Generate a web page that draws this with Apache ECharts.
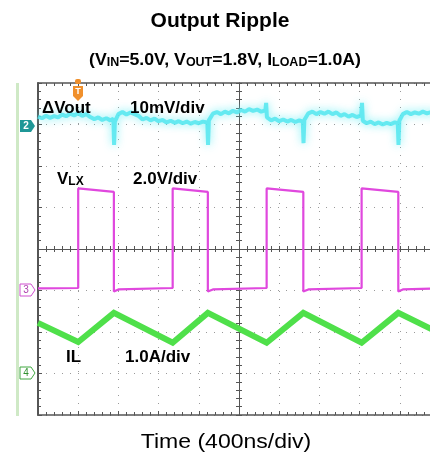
<!DOCTYPE html>
<html>
<head>
<meta charset="utf-8">
<script src="https://cdn.jsdelivr.net/npm/echarts@6/dist/echarts.min.js"></script>
<style>
html,body{margin:0;padding:0;background:#fff;overflow:hidden;width:430px;height:460px;}
#c{width:440px;height:460px;}
</style>
</head>
<body>
<div id="c"></div>
<script>
// ---- data (time in ns, 400 ns/div) ----
const timeMin = 0, timeMax = 4000, timeDiv = 400;

// Channel 2: ΔVout (mV), 10 mV/div
const dvTime = [0,40,80,120,160,200,240,280,320,360,400,440,480,520,560,600,640,680,720,750,757,765,
  800,840,880,920,960,1000,1040,1080,1120,1160,1200,1240,1280,1320,1360,1400,1440,1480,1520,1560,1600,1640,1685,1692,1700,
  1740,1780,1820,1860,1900,1940,1980,2020,2060,2100,2140,2180,2220,2262,2270,2278,
  2320,2360,2400,2440,2480,2520,2560,2600,2635,2642,2650,
  2690,2730,2770,2810,2850,2890,2930,2970,3010,3050,3090,3130,3170,3215,3224,3232,
  3270,3310,3350,3390,3430,3470,3510,3550,3580,3587,3595,
  3630,3670,3710,3750,3790,3830,3870,3910,3950,4000];
const dvMv = [2.4,2.0,2.6,2.1,2.5,2.2,2.9,2.5,3.1,2.7,3.2,2.6,3.0,2.3,1.8,2.2,1.6,2.0,1.5,1.9,-4.4,1.2,
  3.0,3.5,2.9,3.4,3.0,2.6,1.7,2.1,1.5,1.9,1.3,1.6,1.0,1.4,0.9,1.3,0.8,1.2,0.7,1.1,0.8,1.2,1.0,-4.4,1.5,
  3.1,3.5,3.0,3.6,3.2,3.8,3.4,4.0,3.6,4.2,3.8,4.1,3.6,3.9,5.7,2.2,
  1.5,1.9,1.3,1.7,1.2,1.6,1.1,1.5,1.2,-4.0,1.6,
  3.2,3.6,3.0,3.5,3.1,3.6,3.0,3.4,2.6,3.0,2.4,2.8,2.3,2.7,5.7,1.4,
  0.8,1.2,0.6,1.0,0.5,0.9,0.6,1.0,0.8,-4.4,1.4,
  3.0,3.5,3.0,3.4,3.1,3.6,3.2,3.5,3.0,3.3];

// Channel 3: VLX (V), 2.0 V/div
const vlxTime = [0,400,400,755,755,800,1340,1340,1690,1690,1740,2275,2275,2640,2640,2690,3220,3220,3585,3585,3630,4000];
const vlxVolt = [0.1,0.12,4.92,4.75,-0.05,0.05,0.12,4.92,4.75,-0.05,0.05,0.12,4.92,4.75,-0.05,0.05,0.12,4.92,4.75,-0.05,0.05,0.1];

// Channel 4: IL (A), 1.0 A/div
const ilTime = [0,400,755,1340,1690,2275,2640,3220,3585,4000];
const ilAmp  = [1.22,0.76,1.46,0.74,1.46,0.74,1.46,0.74,1.46,0.97];

// channel scale ranges (screen is 8 divisions tall)
const dvRange  = [-69.5, 10.5];
const vlxRange = [-6, 10];
const ilRange  = [-1, 7];

const FONT = "'Liberation Sans', Arial, sans-serif";
const pair = (a, b) => a.map((v, i) => [v, b[i]]);

const gridCol = '#555';
const dotCol = '#9a9a9a';

const chart = echarts.init(document.getElementById('c'), null, {renderer: 'canvas'});

function borderAxisX(pos, split) {
  return {
    type: 'value', min: timeMin, max: timeMax, interval: timeDiv, position: pos, gridIndex: 0,
    axisLine: {show: true, onZero: false, lineStyle: {color: gridCol, width: 1.5}},
    axisTick: {show: true, inside: true, length: 4, lineStyle: {color: gridCol}},
    minorTick: {show: true, splitNumber: 5, length: 3, lineStyle: {color: gridCol}},
    axisLabel: {show: false},
    splitLine: {show: split, lineStyle: {color: dotCol, width: 1, type: [1, 7]}}
  };
}
function centerAxisX(inside) {
  return {
    type: 'value', min: -5, max: 5, interval: 1, position: 'bottom',
    axisLine: {show: true, onZero: true, onZeroAxisIndex: 0, lineStyle: {color: gridCol, width: 1}},
    axisTick: {show: true, inside: inside, length: 3, lineStyle: {color: gridCol}},
    minorTick: {show: true, splitNumber: 5, length: 3, lineStyle: {color: gridCol}},
    axisLabel: {show: false}, splitLine: {show: false}
  };
}
function centerAxisY(inside) {
  return {
    type: 'value', min: -4, max: 4, interval: 1, position: 'left',
    axisLine: {show: true, onZero: true, onZeroAxisIndex: 2, lineStyle: {color: gridCol, width: 1}},
    axisTick: {show: true, inside: inside, length: 3, lineStyle: {color: gridCol}},
    minorTick: {show: true, splitNumber: 5, length: 3, lineStyle: {color: gridCol}},
    axisLabel: {show: false}, splitLine: {show: false}
  };
}
function hiddenY(r) {
  return {type: 'value', min: r[0], max: r[1], show: false, axisLine: {onZero: false}, splitLine: {show: false}};
}
function label(x, y, text, extra) {
  return Object.assign({type: 'text', x: x, y: y, z: 12,
    style: Object.assign({text: text, font: 'bold 17px ' + FONT, fill: '#000', textVerticalAlign: 'middle'}, extra || {})});
}

const option = {
  backgroundColor: '#fff',
  animation: false,
  grid: {left: 38, top: 83, right: 0, height: 332, containLabel: false},
  xAxis: [borderAxisX('bottom', true), borderAxisX('top', false), centerAxisX(true), centerAxisX(false)],
  yAxis: [
    {type: 'value', min: -4, max: 4, interval: 1, position: 'left',
     axisLine: {show: true, onZero: false, lineStyle: {color: gridCol, width: 2}},
     axisTick: {show: true, inside: true, length: 4, lineStyle: {color: gridCol}},
     minorTick: {show: true, splitNumber: 5, length: 3, lineStyle: {color: gridCol}},
     axisLabel: {show: false},
     splitLine: {show: true, lineStyle: {color: dotCol, width: 1, type: [1, 7]}}},
    centerAxisY(true), centerAxisY(false),
    hiddenY(dvRange), hiddenY(vlxRange), hiddenY(ilRange)
  ],
  series: [
    {name: 'IL', type: 'line', xAxisIndex: 0, yAxisIndex: 5, data: pair(ilTime, ilAmp),
     showSymbol: false, symbol: 'none', lineStyle: {color: '#4fe04a', width: 6, join: 'miter'}, z: 3},
    {name: 'VLX', type: 'line', xAxisIndex: 0, yAxisIndex: 4, data: pair(vlxTime, vlxVolt),
     showSymbol: false, symbol: 'none', lineStyle: {color: '#e048de', width: 2.2}, z: 4},
    {name: 'ΔVout', type: 'line', xAxisIndex: 0, yAxisIndex: 3, data: pair(dvTime, dvMv),
     showSymbol: false, symbol: 'none',
     lineStyle: {color: '#52e6ee', width: 4, opacity: 0.85, shadowColor: '#6aeef4', shadowBlur: 8}, z: 5}
  ],
  graphic: [
    // titles
    {type: 'text', x: 220, y: 21, z: 12,
     style: {text: 'Output Ripple', font: 'bold 21px ' + FONT, fill: '#000', textAlign: 'center', textVerticalAlign: 'middle'}},
    {type: 'text', x: 225, y: 60, scaleX: 1.04, z: 12,
     style: {text: '(V{s|IN}=5.0V, V{s|OUT}=1.8V, I{s|LOAD}=1.0A)', font: 'bold 17px ' + FONT, fill: '#000',
       textAlign: 'center', textVerticalAlign: 'middle',
       rich: {s: {font: 'bold 12px ' + FONT, fill: '#000', padding: [6, 0, 0, 0]}}}},
    {type: 'text', x: 226, y: 442, scaleX: 1.15, z: 12,
     style: {text: 'Time (400ns/div)', font: '20px ' + FONT, fill: '#000', textAlign: 'center', textVerticalAlign: 'middle'}},
    {type: 'rect', shape: {x: 16, y: 83, width: 3, height: 333}, style: {fill: '#cfe9c6'}, z: 1},
    // channel markers
    {type: 'polygon', shape: {points: [[20,120],[31,120],[35,126],[31,132],[20,132]]}, style: {fill: '#1f9797'}, z: 10},
    {type: 'text', x: 26, y: 126, style: {text: '2', font: 'bold 10px ' + FONT, fill: '#fff', textAlign: 'center', textVerticalAlign: 'middle'}, z: 11},
    {type: 'polygon', shape: {points: [[20,284],[31,284],[35,290],[31,296],[20,296]]}, style: {fill: '#fff', stroke: '#d050d0', lineWidth: 1}, z: 10},
    {type: 'text', x: 26, y: 290, style: {text: '3', font: '10px ' + FONT, fill: '#b040b0', textAlign: 'center', textVerticalAlign: 'middle'}, z: 11},
    {type: 'polygon', shape: {points: [[20,367],[31,367],[35,373],[31,379],[20,379]]}, style: {fill: '#fff', stroke: '#40a840', lineWidth: 1}, z: 10},
    {type: 'text', x: 26, y: 373, style: {text: '4', font: '10px ' + FONT, fill: '#30902f', textAlign: 'center', textVerticalAlign: 'middle'}, z: 11},
    // trigger marker
    {type: 'rect', shape: {x: 75, y: 79, width: 6, height: 5, r: 2}, style: {fill: '#f0902c'}, z: 10},
    {type: 'polygon', shape: {points: [[73,86],[83,86],[83,96],[78,101],[73,96]]}, style: {fill: '#f0902c'}, z: 10},
    {type: 'text', x: 78, y: 92, style: {text: 'T', font: 'bold 9px ' + FONT, fill: '#fff', textAlign: 'center', textVerticalAlign: 'middle'}, z: 11},
    // in-plot labels
    label(42, 108, 'ΔVout'),
    label(130, 108, '10mV/div'),
    label(57, 179, 'V{s|LX}', {rich: {s: {font: 'bold 12px ' + FONT, fill: '#000', padding: [6, 0, 0, 0]}}}),
    label(133, 179, '2.0V/div'),
    label(66, 357, 'IL'),
    label(125, 357, '1.0A/div')
  ]
};
chart.setOption(option);
</script>
</body>
</html>
